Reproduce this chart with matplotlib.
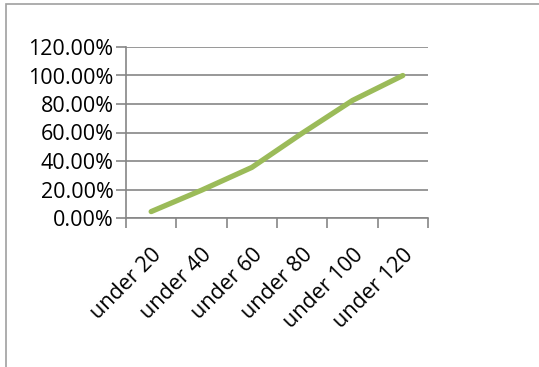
import matplotlib.pyplot as plt
from matplotlib.patches import Rectangle
from matplotlib.ticker import FuncFormatter, MultipleLocator

categories = ['under 20', 'under 40', 'under 60', 'under 80', 'under 100', 'under 120']
cum_pct = [0.045, 0.195, 0.355, 0.595, 0.825, 1.00]

plt.rcParams['font.family'] = ['Open Sans', 'DejaVu Sans']

fig = plt.figure(figsize=(5.39, 3.67), dpi=100)
W, H = 539, 367
# chart frame (extends past right and bottom edge)
fig.patches.append(Rectangle((6 / W, -0.1), 1.2, (H - 4) / H + 0.1, transform=fig.transFigure,
                             fill=False, edgecolor='#a0a0a0', linewidth=1.2))

ax = fig.add_axes([126 / W, 1 - 218 / H, (428 - 126) / W, (218 - 47) / H])
x = [i + 0.5 for i in range(len(categories))]
ax.plot(x, cum_pct, color='#9bbb59', linewidth=3.8, solid_capstyle='round')

ax.set_xlim(0, len(categories))
ax.set_ylim(0, 1.2)
ax.yaxis.set_major_locator(MultipleLocator(0.2))
ax.yaxis.set_major_formatter(FuncFormatter(lambda v, p: f'{v * 100:.2f}%'))
ax.set_xticks(range(len(categories) + 1))
ax.set_xticklabels([])
ax.set_xticks(x, minor=True)
ax.set_xticklabels(categories, minor=True, rotation=45, ha='right', va='top',
                   rotation_mode='anchor', fontsize=15.5)
ax.tick_params(axis='x', which='minor', length=0, pad=19)
ax.tick_params(axis='x', which='major', length=7, color='#868686', width=1.2)
ax.tick_params(axis='y', length=7, color='#868686', width=1.2, labelsize=15.5, pad=2)

ax.grid(axis='y', color='#868686', linewidth=1.2)
for s in ['top', 'right']:
    ax.spines[s].set_visible(False)
for s in ['left', 'bottom']:
    ax.spines[s].set_color('#868686')
    ax.spines[s].set_linewidth(1.2)
ax.set_axisbelow(True)

fig.savefig('out.png', dpi=100)
